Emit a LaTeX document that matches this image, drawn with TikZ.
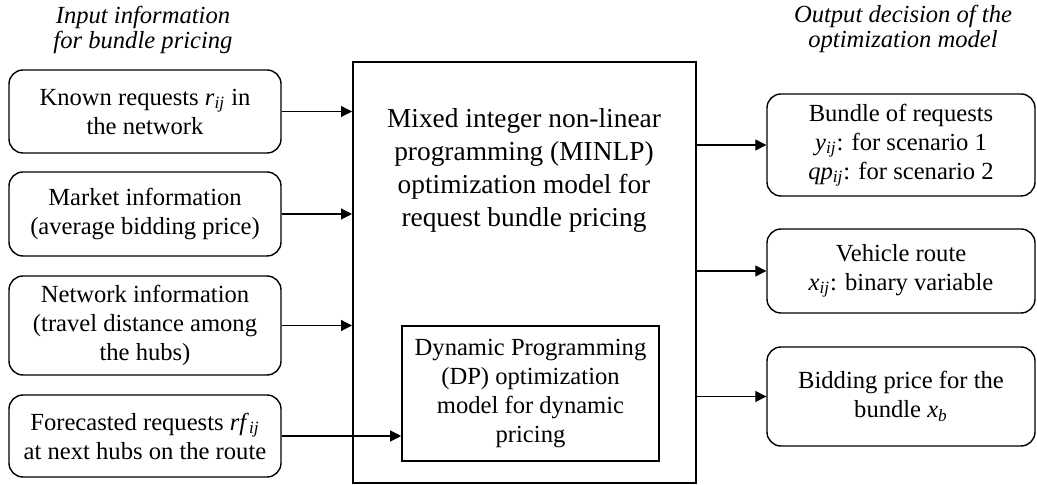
\documentclass[tikz,border=0pt]{standalone}
\usepackage{fontspec}
\setmainfont{Liberation Serif}
\usetikzlibrary{arrows.meta}
\newcommand{\subv}[2]{\textit{#1}\textsubscript{\textit{#2}}}

\begin{document}
\begin{tikzpicture}[x=0.5pt, y=-0.5pt,
            inbox/.style={draw, rectangle, rounded corners=7pt, line width=0.7pt, align=center, minimum width=136pt, font=\fontsize{12.3}{14.5}\selectfont},
            outbox/.style={inbox, minimum width=134pt},
            model/.style={draw, rectangle, line width=1pt},
            head/.style={align=center, font=\fontsize{12.3}{12.5}\selectfont\itshape},
            arr/.style={-{Triangle[length=5.5pt,width=5.5pt]}, line width=0.6pt}]
            \useasboundingbox (0,0) rectangle (1037,485);
            \node[head] (inhead) at (143,30) {Input information\\for bundle pricing};
            \node[head] (outhead) at (903,29) {Output decision of the\\optimization model};

            \node[inbox, minimum height=41.5pt] (known) at (145,111.5) {Known requests \subv{r}{ij} in\\the network};
            \node[inbox, minimum height=42pt] (market) at (145,214) {Market information\\(average bidding price)};
            \node[inbox, minimum height=49.5pt] (network) at (145,325.5) {Network information\\(travel distance among\\the hubs)};
            \node[inbox, minimum height=41pt] (forecast) at (145,436) {Forecasted requests \subv{rf}{ij}\\at next hubs on the route};

            \node[model, minimum width=171.5pt, minimum height=210.5pt] (minlp) at (524.5,272.5) {};
            \node[align=center, font=\fontsize{13.7}{16.5}\selectfont] (minlptext) at (524,170) {Mixed integer non-linear\\programming (MINLP)\\optimization model for\\request bundle pricing};
            \node[model, line width=0.8pt, minimum width=128.5pt, minimum height=67.5pt, align=center, font=\fontsize{12.3}{14.5}\selectfont] (dp) at (530.5,393.5) {Dynamic Programming\\(DP) optimization\\model for dynamic\\pricing};

            \node[outbox, minimum height=51pt] (bundle) at (901,145) {Bundle of requests\\\subv{y}{ij}: for scenario 1\\\subv{qp}{ij}: for scenario 2};
            \node[outbox, minimum height=42pt] (route) at (901,271) {Vehicle route\\\subv{x}{ij}: binary variable};
            \node[outbox, minimum height=49.5pt] (price) at (901,396.5) {Bidding price for the\\bundle \subv{x}{b}};

            \draw[arr] (known) -- (known -| minlp.west);
            \draw[arr] (market) -- (market -| minlp.west);
            \draw[arr] (network) -- (network -| minlp.west);
            \draw[arr] (forecast) -- (forecast -| dp.west);
            \draw[arr] (bundle -| minlp.east) -- (bundle);
            \draw[arr] (route -| minlp.east) -- (route);
            \draw[arr] (price -| minlp.east) -- (price);
        \end{tikzpicture}
\end{document}
